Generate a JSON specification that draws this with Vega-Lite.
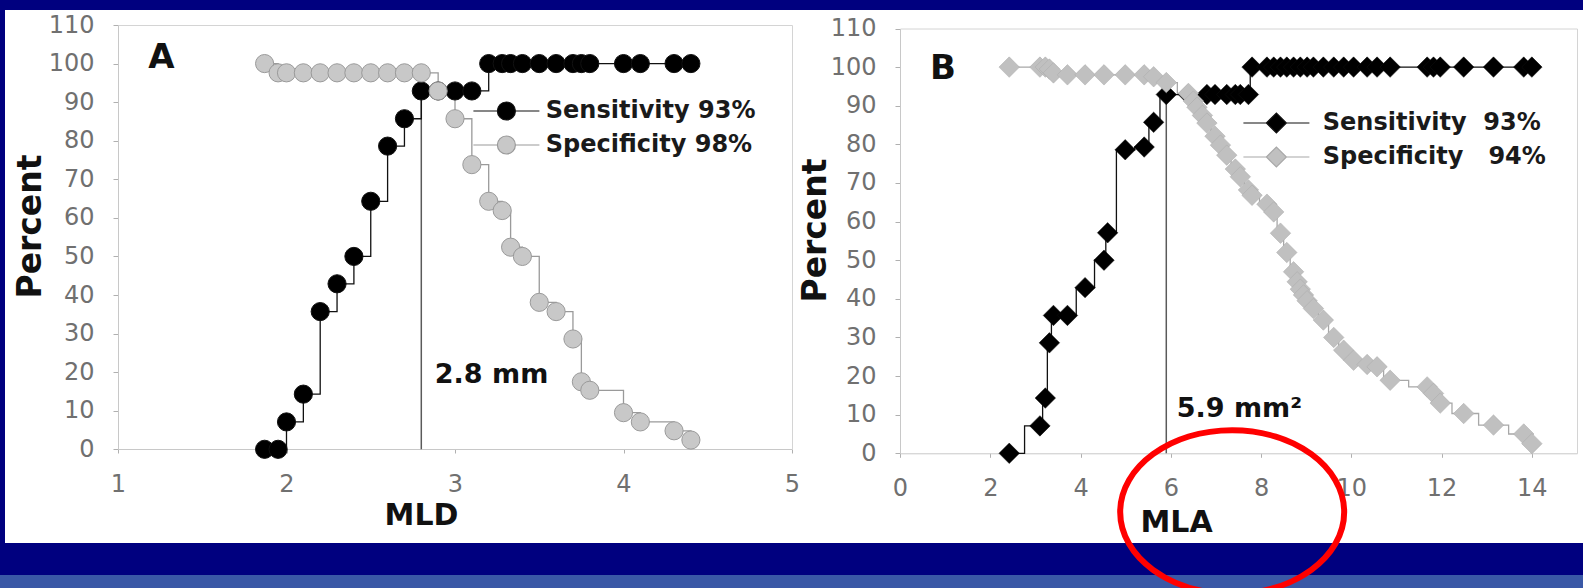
{
  "$schema": "https://vega.github.io/schema/vega-lite/v6.json",
  "width": 1611,
  "height": 565,
  "autosize": {"type": "none"},
  "padding": {"left": -11, "top": -6, "right": -17, "bottom": 29},
  "background": "#3a58a6",
  "view": {"fill": "white", "stroke": "#00007f", "strokeWidth": 32},
  "config": {
    "font": "DejaVu Sans",
    "axis": {"labelFont": "DejaVu Sans", "titleFont": "DejaVu Sans", "grid": false},
    "legend": {"padding": 0}
  },
  "datasets": {
    "A": [
      {"t": 1.87, "pct": 0, "series": "Sensitivity 93%"},
      {"t": 1.95, "pct": 0, "series": "Sensitivity 93%"},
      {"t": 2.0, "pct": 7.1, "series": "Sensitivity 93%"},
      {"t": 2.1, "pct": 14.3, "series": "Sensitivity 93%"},
      {"t": 2.2, "pct": 35.7, "series": "Sensitivity 93%"},
      {"t": 2.3, "pct": 42.9, "series": "Sensitivity 93%"},
      {"t": 2.4, "pct": 50, "series": "Sensitivity 93%"},
      {"t": 2.5, "pct": 64.3, "series": "Sensitivity 93%"},
      {"t": 2.6, "pct": 78.6, "series": "Sensitivity 93%"},
      {"t": 2.7, "pct": 85.7, "series": "Sensitivity 93%"},
      {"t": 2.8, "pct": 92.9, "series": "Sensitivity 93%"},
      {"t": 2.9, "pct": 92.9, "series": "Sensitivity 93%"},
      {"t": 3.0, "pct": 92.9, "series": "Sensitivity 93%"},
      {"t": 3.1, "pct": 92.9, "series": "Sensitivity 93%"},
      {"t": 3.2, "pct": 100, "series": "Sensitivity 93%"},
      {"t": 3.28, "pct": 100, "series": "Sensitivity 93%"},
      {"t": 3.33, "pct": 100, "series": "Sensitivity 93%"},
      {"t": 3.4, "pct": 100, "series": "Sensitivity 93%"},
      {"t": 3.5, "pct": 100, "series": "Sensitivity 93%"},
      {"t": 3.6, "pct": 100, "series": "Sensitivity 93%"},
      {"t": 3.7, "pct": 100, "series": "Sensitivity 93%"},
      {"t": 3.75, "pct": 100, "series": "Sensitivity 93%"},
      {"t": 3.8, "pct": 100, "series": "Sensitivity 93%"},
      {"t": 4.0, "pct": 100, "series": "Sensitivity 93%"},
      {"t": 4.1, "pct": 100, "series": "Sensitivity 93%"},
      {"t": 4.3, "pct": 100, "series": "Sensitivity 93%"},
      {"t": 4.4, "pct": 100, "series": "Sensitivity 93%"},
      {"t": 1.87, "pct": 100, "series": "Specificity 98%"},
      {"t": 1.95, "pct": 97.6, "series": "Specificity 98%"},
      {"t": 2.0, "pct": 97.6, "series": "Specificity 98%"},
      {"t": 2.1, "pct": 97.6, "series": "Specificity 98%"},
      {"t": 2.2, "pct": 97.6, "series": "Specificity 98%"},
      {"t": 2.3, "pct": 97.6, "series": "Specificity 98%"},
      {"t": 2.4, "pct": 97.6, "series": "Specificity 98%"},
      {"t": 2.5, "pct": 97.6, "series": "Specificity 98%"},
      {"t": 2.6, "pct": 97.6, "series": "Specificity 98%"},
      {"t": 2.7, "pct": 97.6, "series": "Specificity 98%"},
      {"t": 2.8, "pct": 97.6, "series": "Specificity 98%"},
      {"t": 2.9, "pct": 92.9, "series": "Specificity 98%"},
      {"t": 3.0, "pct": 85.7, "series": "Specificity 98%"},
      {"t": 3.1, "pct": 73.8, "series": "Specificity 98%"},
      {"t": 3.2, "pct": 64.3, "series": "Specificity 98%"},
      {"t": 3.28, "pct": 61.9, "series": "Specificity 98%"},
      {"t": 3.33, "pct": 52.4, "series": "Specificity 98%"},
      {"t": 3.4, "pct": 50, "series": "Specificity 98%"},
      {"t": 3.5, "pct": 38.1, "series": "Specificity 98%"},
      {"t": 3.6, "pct": 35.7, "series": "Specificity 98%"},
      {"t": 3.7, "pct": 28.6, "series": "Specificity 98%"},
      {"t": 3.75, "pct": 17.5, "series": "Specificity 98%"},
      {"t": 3.8, "pct": 15.3, "series": "Specificity 98%"},
      {"t": 4.0, "pct": 9.5, "series": "Specificity 98%"},
      {"t": 4.1, "pct": 7.1, "series": "Specificity 98%"},
      {"t": 4.3, "pct": 4.8, "series": "Specificity 98%"},
      {"t": 4.4, "pct": 2.4, "series": "Specificity 98%"}
    ],
    "Acut": [{"t": 2.8, "lo": 0, "hi": 97.6}],
    "Anote": [{"t": 2.88, "pct": 19.2, "label": "2.8 mm"}],
    "Aletter": [{"t": 1.18, "pct": 101.4, "label": "A"}],
    "B": [
      {"t": 2.42, "pct": 0, "series": "Sensitivity\u00a0\u00a093%"},
      {"t": 3.10, "pct": 7.1, "series": "Sensitivity\u00a0\u00a093%"},
      {"t": 3.22, "pct": 14.3, "series": "Sensitivity\u00a0\u00a093%"},
      {"t": 3.31, "pct": 28.6, "series": "Sensitivity\u00a0\u00a093%"},
      {"t": 3.40, "pct": 35.7, "series": "Sensitivity\u00a0\u00a093%"},
      {"t": 3.71, "pct": 35.7, "series": "Sensitivity\u00a0\u00a093%"},
      {"t": 4.10, "pct": 42.9, "series": "Sensitivity\u00a0\u00a093%"},
      {"t": 4.52, "pct": 50, "series": "Sensitivity\u00a0\u00a093%"},
      {"t": 4.60, "pct": 57.1, "series": "Sensitivity\u00a0\u00a093%"},
      {"t": 4.99, "pct": 78.6, "series": "Sensitivity\u00a0\u00a093%"},
      {"t": 5.41, "pct": 79.3, "series": "Sensitivity\u00a0\u00a093%"},
      {"t": 5.62, "pct": 85.7, "series": "Sensitivity\u00a0\u00a093%"},
      {"t": 5.90, "pct": 92.9, "series": "Sensitivity\u00a0\u00a093%"},
      {"t": 6.39, "pct": 92.9, "series": "Sensitivity\u00a0\u00a093%"},
      {"t": 6.80, "pct": 92.9, "series": "Sensitivity\u00a0\u00a093%"},
      {"t": 6.98, "pct": 92.9, "series": "Sensitivity\u00a0\u00a093%"},
      {"t": 7.24, "pct": 92.9, "series": "Sensitivity\u00a0\u00a093%"},
      {"t": 7.43, "pct": 92.9, "series": "Sensitivity\u00a0\u00a093%"},
      {"t": 7.54, "pct": 92.9, "series": "Sensitivity\u00a0\u00a093%"},
      {"t": 7.72, "pct": 92.9, "series": "Sensitivity\u00a0\u00a093%"},
      {"t": 7.80, "pct": 100, "series": "Sensitivity\u00a0\u00a093%"},
      {"t": 8.13, "pct": 100, "series": "Sensitivity\u00a0\u00a093%"},
      {"t": 8.28, "pct": 100, "series": "Sensitivity\u00a0\u00a093%"},
      {"t": 8.43, "pct": 100, "series": "Sensitivity\u00a0\u00a093%"},
      {"t": 8.57, "pct": 100, "series": "Sensitivity\u00a0\u00a093%"},
      {"t": 8.72, "pct": 100, "series": "Sensitivity\u00a0\u00a093%"},
      {"t": 8.87, "pct": 100, "series": "Sensitivity\u00a0\u00a093%"},
      {"t": 9.02, "pct": 100, "series": "Sensitivity\u00a0\u00a093%"},
      {"t": 9.16, "pct": 100, "series": "Sensitivity\u00a0\u00a093%"},
      {"t": 9.38, "pct": 100, "series": "Sensitivity\u00a0\u00a093%"},
      {"t": 9.61, "pct": 100, "series": "Sensitivity\u00a0\u00a093%"},
      {"t": 9.83, "pct": 100, "series": "Sensitivity\u00a0\u00a093%"},
      {"t": 10.05, "pct": 100, "series": "Sensitivity\u00a0\u00a093%"},
      {"t": 10.35, "pct": 100, "series": "Sensitivity\u00a0\u00a093%"},
      {"t": 10.57, "pct": 100, "series": "Sensitivity\u00a0\u00a093%"},
      {"t": 10.86, "pct": 100, "series": "Sensitivity\u00a0\u00a093%"},
      {"t": 11.68, "pct": 100, "series": "Sensitivity\u00a0\u00a093%"},
      {"t": 11.82, "pct": 100, "series": "Sensitivity\u00a0\u00a093%"},
      {"t": 11.97, "pct": 100, "series": "Sensitivity\u00a0\u00a093%"},
      {"t": 12.49, "pct": 100, "series": "Sensitivity\u00a0\u00a093%"},
      {"t": 13.15, "pct": 100, "series": "Sensitivity\u00a0\u00a093%"},
      {"t": 13.82, "pct": 100, "series": "Sensitivity\u00a0\u00a093%"},
      {"t": 14.0, "pct": 100, "series": "Sensitivity\u00a0\u00a093%"},
      {"t": 2.42, "pct": 100, "series": "Specificity\u00a0\u00a0\u00a094%"},
      {"t": 3.10, "pct": 100, "series": "Specificity\u00a0\u00a0\u00a094%"},
      {"t": 3.22, "pct": 100, "series": "Specificity\u00a0\u00a0\u00a094%"},
      {"t": 3.31, "pct": 99.5, "series": "Specificity\u00a0\u00a0\u00a094%"},
      {"t": 3.40, "pct": 98.5, "series": "Specificity\u00a0\u00a0\u00a094%"},
      {"t": 3.71, "pct": 98, "series": "Specificity\u00a0\u00a0\u00a094%"},
      {"t": 4.10, "pct": 98, "series": "Specificity\u00a0\u00a0\u00a094%"},
      {"t": 4.52, "pct": 98, "series": "Specificity\u00a0\u00a0\u00a094%"},
      {"t": 4.99, "pct": 98, "series": "Specificity\u00a0\u00a0\u00a094%"},
      {"t": 5.41, "pct": 98, "series": "Specificity\u00a0\u00a0\u00a094%"},
      {"t": 5.62, "pct": 97.5, "series": "Specificity\u00a0\u00a0\u00a094%"},
      {"t": 5.90, "pct": 96, "series": "Specificity\u00a0\u00a0\u00a094%"},
      {"t": 6.39, "pct": 93.2, "series": "Specificity\u00a0\u00a0\u00a094%"},
      {"t": 6.50, "pct": 91.2, "series": "Specificity\u00a0\u00a0\u00a094%"},
      {"t": 6.58, "pct": 89.6, "series": "Specificity\u00a0\u00a0\u00a094%"},
      {"t": 6.70, "pct": 87.5, "series": "Specificity\u00a0\u00a0\u00a094%"},
      {"t": 6.80, "pct": 85.5, "series": "Specificity\u00a0\u00a0\u00a094%"},
      {"t": 6.98, "pct": 82.1, "series": "Specificity\u00a0\u00a0\u00a094%"},
      {"t": 7.10, "pct": 79.8, "series": "Specificity\u00a0\u00a0\u00a094%"},
      {"t": 7.24, "pct": 77.2, "series": "Specificity\u00a0\u00a0\u00a094%"},
      {"t": 7.43, "pct": 73.6, "series": "Specificity\u00a0\u00a0\u00a094%"},
      {"t": 7.54, "pct": 71.6, "series": "Specificity\u00a0\u00a0\u00a094%"},
      {"t": 7.72, "pct": 68.2, "series": "Specificity\u00a0\u00a0\u00a094%"},
      {"t": 7.80, "pct": 66.8, "series": "Specificity\u00a0\u00a0\u00a094%"},
      {"t": 8.13, "pct": 64.5, "series": "Specificity\u00a0\u00a0\u00a094%"},
      {"t": 8.28, "pct": 62.5, "series": "Specificity\u00a0\u00a0\u00a094%"},
      {"t": 8.43, "pct": 57, "series": "Specificity\u00a0\u00a0\u00a094%"},
      {"t": 8.57, "pct": 52, "series": "Specificity\u00a0\u00a0\u00a094%"},
      {"t": 8.72, "pct": 47, "series": "Specificity\u00a0\u00a0\u00a094%"},
      {"t": 8.80, "pct": 44.4, "series": "Specificity\u00a0\u00a0\u00a094%"},
      {"t": 8.87, "pct": 42.5, "series": "Specificity\u00a0\u00a0\u00a094%"},
      {"t": 8.94, "pct": 41, "series": "Specificity\u00a0\u00a0\u00a094%"},
      {"t": 9.02, "pct": 39.5, "series": "Specificity\u00a0\u00a0\u00a094%"},
      {"t": 9.16, "pct": 37.5, "series": "Specificity\u00a0\u00a0\u00a094%"},
      {"t": 9.38, "pct": 34.5, "series": "Specificity\u00a0\u00a0\u00a094%"},
      {"t": 9.61, "pct": 30, "series": "Specificity\u00a0\u00a0\u00a094%"},
      {"t": 9.83, "pct": 26.7, "series": "Specificity\u00a0\u00a0\u00a094%"},
      {"t": 10.05, "pct": 24.1, "series": "Specificity\u00a0\u00a0\u00a094%"},
      {"t": 10.35, "pct": 23, "series": "Specificity\u00a0\u00a0\u00a094%"},
      {"t": 10.57, "pct": 22.4, "series": "Specificity\u00a0\u00a0\u00a094%"},
      {"t": 10.86, "pct": 18.9, "series": "Specificity\u00a0\u00a0\u00a094%"},
      {"t": 11.68, "pct": 17.2, "series": "Specificity\u00a0\u00a0\u00a094%"},
      {"t": 11.82, "pct": 15.5, "series": "Specificity\u00a0\u00a0\u00a094%"},
      {"t": 11.97, "pct": 13, "series": "Specificity\u00a0\u00a0\u00a094%"},
      {"t": 12.49, "pct": 10.3, "series": "Specificity\u00a0\u00a0\u00a094%"},
      {"t": 13.15, "pct": 7.3, "series": "Specificity\u00a0\u00a0\u00a094%"},
      {"t": 13.82, "pct": 5, "series": "Specificity\u00a0\u00a0\u00a094%"},
      {"t": 14.0, "pct": 2.5, "series": "Specificity\u00a0\u00a0\u00a094%"}
    ],
    "Bcut": [{"t": 5.9, "lo": 0, "hi": 92.9}],
    "Bnote": [{"t": 6.13, "pct": 11.4, "label": "5.9 mm²"}],
    "Bletter": [{"t": 0.665, "pct": 99.4, "label": "B"}],
    "ring": [{"t": 7.36, "pct": -15.2}]
  },
  "layer": [
    {
      "layer": [
        {
          "data": {"name": "Acut"},
          "mark": {"type": "rule", "color": "#5a5a5a", "strokeWidth": 1.5},
          "encoding": {
            "x": {"field": "t", "type": "quantitative",
              "scale": {"domain": [1, 5], "range": [129, 803], "nice": false, "zero": false},
              "axis": {"orient": "bottom", "offset": -110, "values": [1, 2, 3, 4, 5], "title": "MLD",
                "titleX": 432, "titleY": 66, "titleAlign": "center", "titleBaseline": "middle",
                "titleFontSize": 30, "titleFontWeight": "bold", "titleColor": "#111111",
                "labelFontSize": 24, "labelColor": "#707070", "labelPadding": 19, "labelFlush": false, "labelOverlap": false,
                "tickSize": 4, "tickColor": "#b0b0b0", "domainColor": "#c8c8c8"}},
            "y": {"field": "lo", "type": "quantitative",
              "scale": {"domain": [0, 110], "range": [455.3, 31], "nice": false, "zero": false},
              "axis": {"orient": "left", "offset": -129, "values": [0, 10, 20, 30, 40, 50, 60, 70, 80, 90, 100, 110], "title": "Percent",
                "titleX": -88, "titleY": 232, "titleAngle": -90, "titleAlign": "center", "titleBaseline": "middle",
                "titleFontSize": 33, "titleFontWeight": "bold", "titleColor": "#111111",
                "labelFontSize": 24, "labelColor": "#707070", "labelPadding": 19, "labelOverlap": false,
                "tickSize": 5, "tickColor": "#b0b0b0", "domainColor": "#c8c8c8"}},
            "y2": {"field": "hi"}
          }
        },
        {
          "data": {"name": "A"},
          "mark": {"type": "line", "interpolate": "step-after", "strokeWidth": 1.3},
          "encoding": {
            "x": {"field": "t", "type": "quantitative",
              "axis": {"orient": "top", "offset": -31, "labels": false, "ticks": false, "title": null, "domainColor": "#d4d4d4"}},
            "y": {"field": "pct", "type": "quantitative",
              "axis": {"orient": "right", "offset": -808, "labels": false, "ticks": false, "title": null, "domainColor": "#d4d4d4"}},
            "stroke": {"field": "series", "type": "nominal",
              "scale": {"range": ["#111111", "#9a9a9a"]}, "legend": null}
          }
        },
        {
          "data": {"name": "A"},
          "mark": {"type": "point", "shape": "circle", "filled": true, "size": 330, "opacity": 1, "strokeWidth": 1},
          "encoding": {
            "x": {"field": "t", "type": "quantitative", "axis": null},
            "y": {"field": "pct", "type": "quantitative", "axis": null},
            "fill": {"field": "series", "type": "nominal",
              "scale": {"domain": ["Sensitivity 93%", "Specificity 98%"], "range": ["#000000", "#c8c8c8"]},
              "legend": {"orient": "none", "legendX": 505.4, "legendY": 105, "title": null,
                "symbolType": "M-3.3,0H-0.9M0.9,0H3.3M-0.9,0A0.9,0.9,0,1,0,0.9,0A0.9,0.9,0,1,0,-0.9,0Z",
                "symbolSize": 400, "symbolStrokeWidth": 1.2, "symbolOpacity": 1,
                "labelFont": "DejaVu Sans", "labelFontSize": 24, "labelFontWeight": "bold", "labelColor": "#1a1a1a",
                "labelOffset": 27.4, "labelLimit": 500, "rowPadding": 10,
                "encode": {"symbols": {"update": {"stroke": {"signal": "datum.index ? '#9a9a9a' : '#111111'"}}}}}},
            "stroke": {"field": "series", "type": "nominal", "legend": null}
          }
        },
        {
          "data": {"name": "Anote"},
          "mark": {"type": "text", "align": "left", "baseline": "middle", "font": "DejaVu Sans", "fontSize": 27, "fontWeight": "bold", "color": "#111111"},
          "encoding": {
            "x": {"field": "t", "type": "quantitative", "axis": null},
            "y": {"field": "pct", "type": "quantitative", "axis": null},
            "text": {"field": "label"}
          }
        },
        {
          "data": {"name": "Aletter"},
          "mark": {"type": "text", "align": "left", "baseline": "middle", "font": "DejaVu Sans", "fontSize": 34, "fontWeight": "bold", "color": "#111111"},
          "encoding": {
            "x": {"field": "t", "type": "quantitative", "axis": null},
            "y": {"field": "pct", "type": "quantitative", "axis": null},
            "text": {"field": "label"}
          }
        }
      ],
      "resolve": {"axis": {"x": "independent", "y": "independent"}}
    },
    {
      "layer": [
        {
          "data": {"name": "Bcut"},
          "mark": {"type": "rule", "color": "#5a5a5a", "strokeWidth": 1.5},
          "encoding": {
            "x": {"field": "t", "type": "quantitative",
              "scale": {"domain": [0, 15], "range": [911, 1588], "nice": false, "zero": false},
              "axis": {"orient": "bottom", "offset": -105.7, "values": [0, 2, 4, 6, 8, 10, 12, 14], "title": "MLA",
                "titleX": 1187, "titleY": 69, "titleAlign": "center", "titleBaseline": "middle",
                "titleFontSize": 30, "titleFontWeight": "bold", "titleColor": "#111111",
                "labelFontSize": 24, "labelColor": "#707070", "labelPadding": 19, "labelFlush": false, "labelOverlap": false,
                "tickSize": 4, "tickColor": "#b0b0b0", "domainColor": "#c8c8c8"}},
            "y": {"field": "lo", "type": "quantitative",
              "scale": {"domain": [0, 110], "range": [459.3, 34.5], "nice": false, "zero": false},
              "axis": {"orient": "left", "offset": -911, "values": [0, 10, 20, 30, 40, 50, 60, 70, 80, 90, 100, 110], "title": "Percent",
                "titleX": -85, "titleY": 236, "titleAngle": -90, "titleAlign": "center", "titleBaseline": "middle",
                "titleFontSize": 33, "titleFontWeight": "bold", "titleColor": "#111111",
                "labelFontSize": 24, "labelColor": "#707070", "labelPadding": 19, "labelOverlap": false,
                "tickSize": 5, "tickColor": "#b0b0b0", "domainColor": "#c8c8c8"}},
            "y2": {"field": "hi"}
          }
        },
        {
          "data": {"name": "B"},
          "mark": {"type": "line", "interpolate": "step", "strokeWidth": 1.3},
          "encoding": {
            "x": {"field": "t", "type": "quantitative",
              "axis": {"orient": "top", "offset": -34.5, "labels": false, "ticks": false, "title": null, "domainColor": "#d4d4d4"}},
            "y": {"field": "pct", "type": "quantitative",
              "axis": {"orient": "right", "offset": -23, "labels": false, "ticks": false, "title": null, "domainColor": "#d4d4d4"}},
            "stroke": {"field": "series", "type": "nominal",
              "scale": {"range": ["#111111", "#a8a8a8"]}, "legend": null}
          }
        },
        {
          "data": {"name": "B"},
          "mark": {"type": "point", "shape": "diamond", "filled": true, "size": 420, "opacity": 1, "strokeWidth": 0.5},
          "encoding": {
            "x": {"field": "t", "type": "quantitative", "axis": null},
            "y": {"field": "pct", "type": "quantitative", "axis": null},
            "fill": {"field": "series", "type": "nominal",
              "scale": {"domain": ["Sensitivity\u00a0\u00a093%", "Specificity\u00a0\u00a0\u00a094%"], "range": ["#000000", "#c0c0c0"]},
              "legend": {"orient": "none", "legendX": 1275.4, "legendY": 117, "title": null,
                "symbolType": "M-3.3,0H-1M1,0H3.3M-1,0L0,-1L1,0L0,1Z",
                "symbolSize": 400, "symbolStrokeWidth": 1.2, "symbolOpacity": 1,
                "labelFont": "DejaVu Sans", "labelFontSize": 24, "labelFontWeight": "bold", "labelColor": "#1a1a1a",
                "labelOffset": 34.4, "labelLimit": 500, "rowPadding": 8,
                "encode": {"symbols": {"update": {"stroke": {"signal": "datum.index ? '#a8a8a8' : '#111111'"}}}}}},
            "stroke": {"field": "series", "type": "nominal", "legend": null}
          }
        },
        {
          "data": {"name": "Bnote"},
          "mark": {"type": "text", "align": "left", "baseline": "middle", "font": "DejaVu Sans", "fontSize": 27, "fontWeight": "bold", "color": "#111111"},
          "encoding": {
            "x": {"field": "t", "type": "quantitative", "axis": null},
            "y": {"field": "pct", "type": "quantitative", "axis": null},
            "text": {"field": "label"}
          }
        },
        {
          "data": {"name": "Bletter"},
          "mark": {"type": "text", "align": "left", "baseline": "middle", "font": "DejaVu Sans", "fontSize": 34, "fontWeight": "bold", "color": "#111111"},
          "encoding": {
            "x": {"field": "t", "type": "quantitative", "axis": null},
            "y": {"field": "pct", "type": "quantitative", "axis": null},
            "text": {"field": "label"}
          }
        },
        {
          "data": {"name": "ring"},
          "mark": {"type": "point", "shape": "M-1,0A1,0.73,0,1,0,1,0A1,0.73,0,1,0,-1,0Z", "size": 50176, "filled": false, "stroke": "#ff0000", "strokeWidth": 6, "opacity": 1},
          "encoding": {
            "x": {"field": "t", "type": "quantitative", "axis": null},
            "y": {"field": "pct", "type": "quantitative", "axis": null}
          }
        }
      ],
      "resolve": {"axis": {"x": "independent", "y": "independent"}}
    }
  ],
  "resolve": {
    "scale": {"x": "independent", "y": "independent", "fill": "independent", "stroke": "independent"},
    "axis": {"x": "independent", "y": "independent"},
    "legend": {"fill": "independent", "stroke": "independent"}
  }
}
